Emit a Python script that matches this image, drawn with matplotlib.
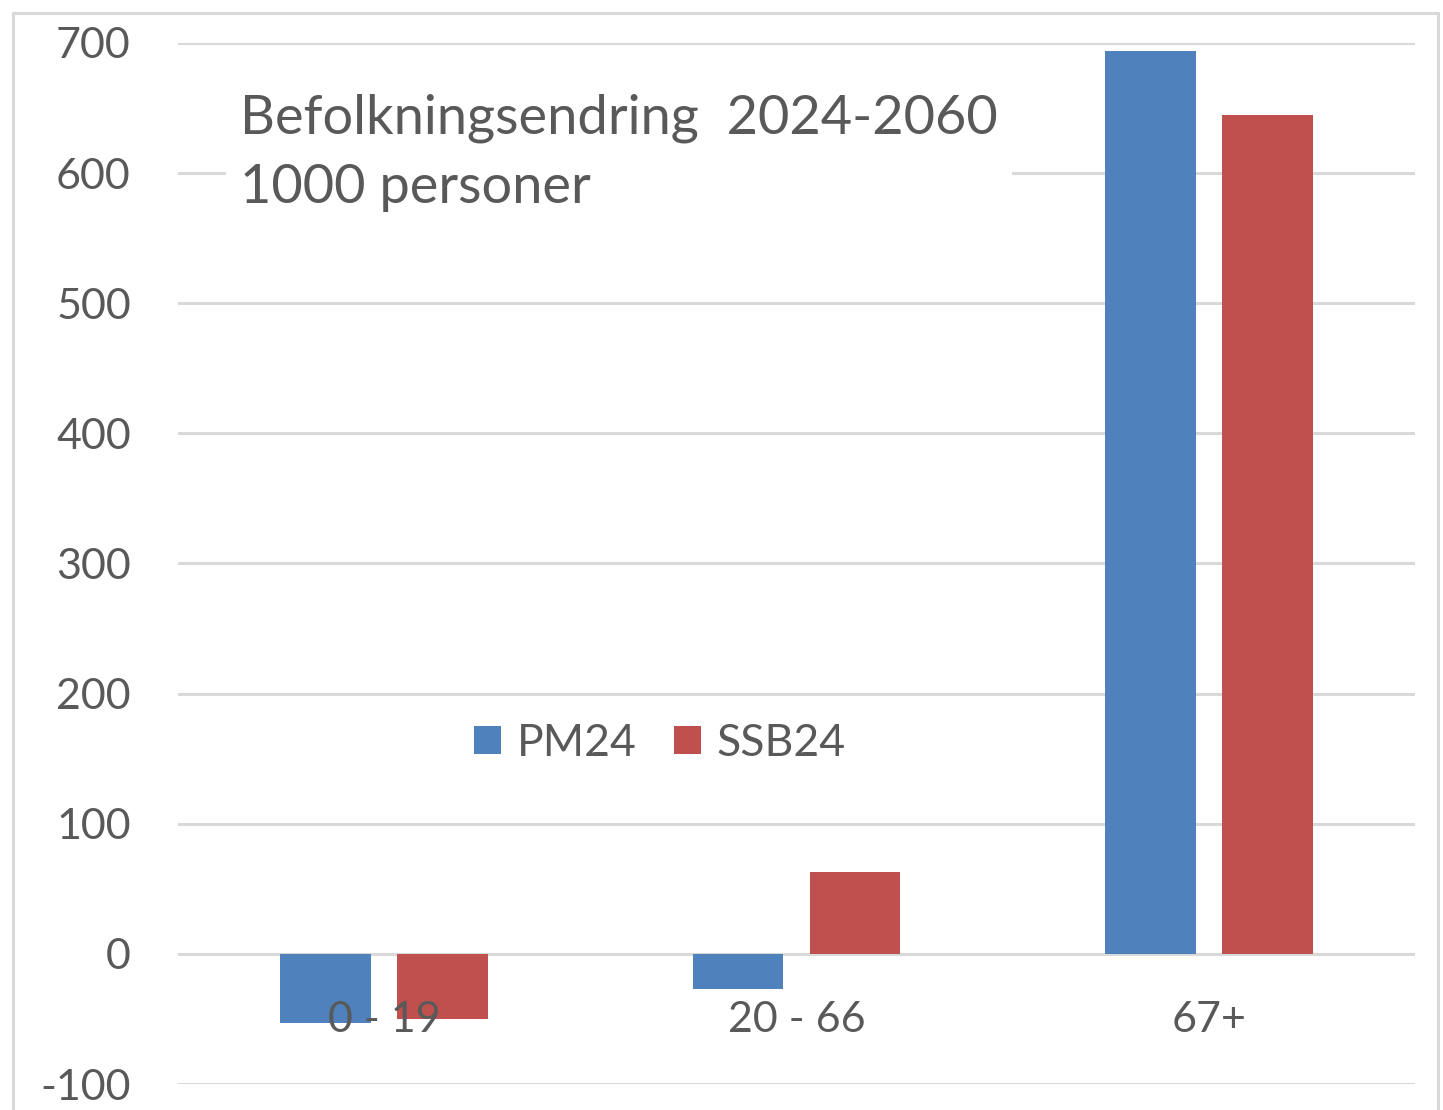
import numpy as np
import matplotlib
matplotlib.use("Agg")
import matplotlib.pyplot as plt
from matplotlib.patches import Rectangle

categories = ["0 - 19", "20 - 66", "67+"]
pm24 = [-53, -27, 694]
ssb24 = [-50, 63, 645]
yticks = [-100, 0, 100, 200, 300, 400, 500, 600, 700]

plt.rcParams['font.family'] = ['Lato', 'DejaVu Sans']
gray = '#595959'
grid = '#d9d9d9'

fig = plt.figure(figsize=(14.43, 11.10), dpi=100)
ax = fig.add_axes([0.1234, 0.0234, 0.9806 - 0.1234, 0.9613 - 0.0234])

x = np.arange(len(categories))
w = 0.22
off = 0.142
ax.bar(x - off, pm24, w, color='#4F81BD', label='PM24', zorder=3)
ax.bar(x + off, ssb24, w, color='#C0504D', label='SSB24', zorder=3)

ax.set_xlim(-0.5, 2.5)
ax.set_ylim(-100, 700)
ax.set_yticks(yticks)
ax.set_yticklabels([str(v) for v in yticks], fontsize=31, color=gray)
ax.tick_params(axis='y', length=0, pad=34)
ax.set_xticks([])
for s in ax.spines.values():
    s.set_visible(False)
ax.yaxis.grid(True, color=grid, linewidth=2.2, zorder=0)

for i, c in enumerate(categories):
    ax.text(i, -36, c, ha='center', va='top', fontsize=31, color=gray, zorder=4)

ax.text(-0.35, 661, "Befolkningsendring  2024-2060\n1000 personer", fontsize=39,
        color=gray, va='top', ha='left', linespacing=1.5, zorder=5,
        bbox=dict(facecolor='white', edgecolor='none', pad=10))

leg = ax.legend(loc='center', bbox_to_anchor=(0.669, 162), bbox_transform=ax.transData,
                ncol=2, frameon=False, fontsize=32, handlelength=0.6, handleheight=0.6,
                handletextpad=0.35, columnspacing=0.85)
for t in leg.get_texts():
    t.set_color(gray)

fig.patches.append(Rectangle((13 / 1443, -0.05), (1438 - 13) / 1443, 1 - 13 / 1110 + 0.05,
                             transform=fig.transFigure, fill=False,
                             edgecolor=grid, linewidth=2.2))

fig.savefig("out.png", dpi=100)
